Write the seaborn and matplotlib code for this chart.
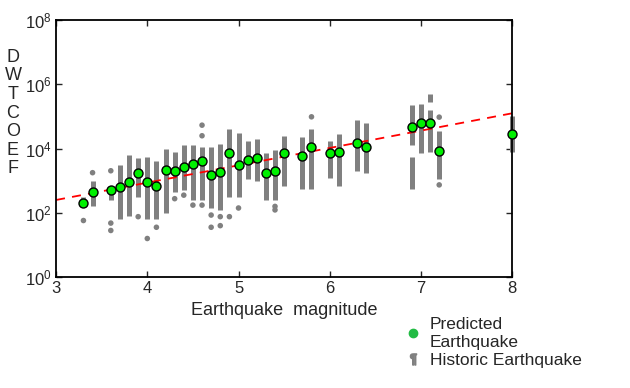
import numpy as np
import pandas as pd
import seaborn as sns
import matplotlib.pyplot as plt
from matplotlib.lines import Line2D

# Predicted earthquakes: magnitude and log10(DWT coefficient)
pred_mag = [3.3, 3.4, 3.6, 3.7, 3.8, 3.9, 4.0, 4.1, 4.2, 4.3, 4.4, 4.5, 4.6,
            4.7, 4.8, 4.9, 5.0, 5.1, 5.2, 5.3, 5.4, 5.5, 5.7, 5.8, 6.0, 6.1,
            6.3, 6.4, 6.9, 7.0, 7.1, 7.2, 8.0]
pred_log10 = [2.30, 2.64, 2.71, 2.79, 2.95, 3.23, 2.95, 2.83, 3.32, 3.31, 3.43,
              3.51, 3.61, 3.18, 3.28, 3.87, 3.49, 3.64, 3.72, 3.23, 3.31, 3.85,
              3.77, 4.06, 3.87, 3.90, 4.16, 4.06, 4.66, 4.81, 4.81, 3.93, 4.45]

# Historic earthquakes: dense columns (low / high log10 value) per magnitude
hist_mag = [3.3, 3.4, 3.6, 3.7, 3.8, 3.9, 4.0, 4.1, 4.2, 4.3, 4.4, 4.5, 4.6,
            4.7, 4.8, 4.9, 5.0, 5.1, 5.2, 5.3, 5.4, 5.5, 5.7, 5.8, 6.0, 6.1,
            6.3, 6.4, 6.9, 6.9, 7.0, 7.1, 7.1, 7.2, 8.0]
hist_lo = [2.2, 2.2, 2.4, 1.8, 1.9, 2.5, 1.8, 1.8, 2.0, 2.65, 2.7, 2.4, 2.4,
           2.15, 2.1, 2.5, 2.5, 3.05, 3.0, 2.4, 2.4, 2.85, 2.75, 2.75, 3.1, 2.85,
           3.3, 3.25, 4.1, 2.75, 3.85, 3.9, 5.45, 3.05, 3.9]
hist_hi = [2.5, 3.0, 2.8, 3.5, 3.8, 3.7, 3.75, 3.6, 4.0, 3.9, 4.1, 4.1, 4.05,
           4.05, 4.15, 4.6, 4.5, 4.25, 4.3, 3.85, 3.95, 4.4, 4.35, 4.6, 4.25, 4.45,
           4.9, 4.8, 5.35, 3.75, 5.4, 5.2, 5.7, 4.55, 5.0]

# Isolated historic points
out_mag = [3.3, 3.4, 3.6, 3.6, 3.6, 3.9, 4.0, 4.1, 4.3, 4.4, 4.5, 4.6, 4.6,
           4.6, 4.7, 4.7, 4.8, 4.8, 4.9, 5.0, 5.4, 5.4, 5.8, 7.2, 7.2]
out_log10 = [1.76, 3.25, 3.31, 1.68, 1.45, 1.88, 1.2, 1.55, 2.44, 2.55, 2.24,
             4.73, 4.4, 2.24, 1.93, 1.55, 1.88, 1.6, 1.88, 2.15, 2.2, 2.09,
             4.99, 4.98, 2.87]

# Fitted trend (end points)
fit_mag = [3.0, 8.0]
fit_log10 = [2.40, 5.10]

pred = pd.DataFrame({"mag": pred_mag, "coef": np.power(10.0, pred_log10)})
outl = pd.DataFrame({"mag": out_mag, "coef": np.power(10.0, out_log10)})
fit = pd.DataFrame({"mag": fit_mag, "coef": np.power(10.0, fit_log10)})

sns.set_style("ticks")
plt.rcParams["font.family"] = ["Liberation Sans", "DejaVu Sans"]
plt.rcParams["mathtext.default"] = "regular"

fig = plt.figure(figsize=(6.3, 3.88), dpi=100)
ax = fig.add_axes([0.089, 0.286, 0.724, 0.662])

grey = "#808080"
ax.vlines(hist_mag, np.power(10.0, hist_lo), np.power(10.0, hist_hi),
          color=grey, linewidth=3.6, zorder=1, clip_on=False)
sns.scatterplot(data=outl, x="mag", y="coef", ax=ax, color=grey, s=16,
                marker="o", edgecolor="none", zorder=1, legend=False)
sns.lineplot(data=fit, x="mag", y="coef", ax=ax, color="red",
             linestyle=(0, (5, 4)), linewidth=1.3, zorder=2)
sns.scatterplot(data=pred, x="mag", y="coef", ax=ax, color="#00f000", s=42,
                marker="o", edgecolor="black", linewidth=1.0, zorder=3,
                legend=False, clip_on=False)

ax.set_yscale("log")
ax.set_xlim(3, 8)
ax.set_ylim(1, 1e8)
ax.set_xticks([3, 4, 5, 6, 7, 8])
ax.set_yticks([1e0, 1e2, 1e4, 1e6, 1e8])
ax.minorticks_off()
ax.tick_params(direction="in", length=4, top=True, right=True,
               labelsize=12, width=1.0, pad=3)
for s in ax.spines.values():
    s.set_linewidth(1.3)
    s.set_color("black")

ax.set_xlabel("Earthquake  magnitude", fontsize=13, labelpad=4)
ax.set_ylabel("")
fig.text(13 / 630, 1 - 113 / 388, "\n".join("DWTCOEF"), ha="center",
         va="center", fontsize=13, linespacing=1.12)

handles = [
    Line2D([], [], marker="o", color="#22bb44", linestyle="none",
           markersize=6),
    Line2D([], [], marker="$\\P$", color=grey, linestyle="none",
           markersize=8),
]
fig.legend(handles, ["Predicted\nEarthquake", "Historic Earthquake"],
           loc="upper left", bbox_to_anchor=(0.63, 0.2), frameon=False,
           fontsize=12.5, handlelength=1.0, handletextpad=0.5,
           labelspacing=0.2, borderaxespad=0)

fig.savefig("out.png", dpi=100)
